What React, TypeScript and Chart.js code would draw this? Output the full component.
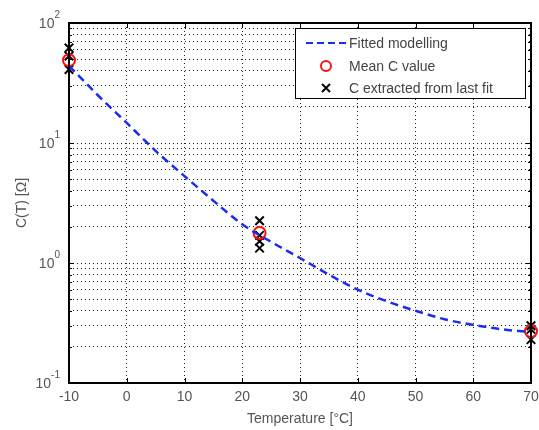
import React, { useEffect, useRef } from "react";
import { Chart, registerables } from "chart.js";

Chart.register(...registerables);

const fitTemps = [-10, -5, 0, 5, 10, 15, 20, 25, 30, 35, 40, 45, 50, 55, 60, 65, 70];
const fitValues = [44, 25, 14.7, 8.6, 5.3, 3.3, 2.1, 1.5, 1.1, 0.8, 0.6, 0.48, 0.4, 0.34, 0.305, 0.28, 0.266];
const meanTemps = [-10, 23, 70];
const meanValues = [49, 1.78, 0.27];
const extractTemps = [-10, -10, -10, 23, 23, 23, 23, 70, 70, 70];
const extractValues = [62, 53, 41, 2.25, 1.7, 1.52, 1.33, 0.3, 0.28, 0.23];
const xTicks = [-10, 0, 10, 20, 30, 40, 50, 60, 70];
const yDecades = [-1, 0, 1, 2];
const legendLabels = ["Fitted modelling", "Mean C value", "C extracted from last fit"];

const FONT = "Liberation Sans, Arial, sans-serif";
const TEXT = "#555";

export default function App() {
  const ref = useRef<HTMLCanvasElement>(null);
  useEffect(() => {
    const canvas = ref.current!;
    const decoPlugin = {
      id: "deco",
      beforeDatasetsDraw(chart: any) {
        const { ctx, chartArea: a, scales } = chart;
        const x = scales.x, y = scales.y;
        ctx.save();
        ctx.strokeStyle = "#000";
        ctx.lineWidth = 1;
        for (const t of xTicks) {
          const px = Math.round(x.getPixelForValue(t)) + 0.5;
          ctx.beginPath();
          ctx.moveTo(px, a.bottom); ctx.lineTo(px, a.bottom - 5);
          ctx.moveTo(px, a.top); ctx.lineTo(px, a.top + 5);
          ctx.stroke();
        }
        for (const d of yDecades) {
          for (let m = 1; m <= 9; m++) {
            const v = m * Math.pow(10, d);
            if (v > 100 || v < 0.1) continue;
            const py = Math.round(y.getPixelForValue(v)) + 0.5;
            const len = m === 1 ? 5 : 3;
            ctx.beginPath();
            ctx.moveTo(a.left, py); ctx.lineTo(a.left + len, py);
            ctx.moveTo(a.right, py); ctx.lineTo(a.right - len, py);
            ctx.stroke();
          }
        }
        ctx.restore();
      },
      afterDraw(chart: any) {
        const { ctx, chartArea: a, scales } = chart;
        const x = scales.x, y = scales.y;
        ctx.save();
        ctx.strokeStyle = "#000";
        ctx.lineWidth = 2;
        ctx.strokeRect(a.left, a.top, a.right - a.left, a.bottom - a.top);
        ctx.fillStyle = TEXT;
        ctx.textBaseline = "middle";
        ctx.font = `14px ${FONT}`;
        ctx.textAlign = "center";
        for (const t of xTicks) {
          ctx.fillText(String(t), x.getPixelForValue(t), a.bottom + 14);
        }
        ctx.fillText("Temperature [°C]", (a.left + a.right) / 2, a.bottom + 36);
        for (const d of yDecades) {
          const py = y.getPixelForValue(Math.pow(10, d));
          const exp = String(d);
          ctx.font = `10px ${FONT}`;
          const ew = ctx.measureText(exp).width;
          ctx.textAlign = "left";
          ctx.fillText(exp, a.left - 9 - ew, py - 8);
          ctx.font = `14px ${FONT}`;
          ctx.textAlign = "right";
          ctx.fillText("10", a.left - 9 - ew, py + 1);
        }
        ctx.save();
        ctx.translate(22, (a.top + a.bottom) / 2);
        ctx.rotate(-Math.PI / 2);
        ctx.textAlign = "center";
        ctx.font = `14px ${FONT}`;
        ctx.fillText("C(T) [Ω]", 0, 0);
        ctx.restore();
        const lx = 295, ly = 28, lw = 230, lh = 70;
        ctx.fillStyle = "#fff";
        ctx.fillRect(lx, ly, lw, lh);
        ctx.strokeStyle = "#000";
        ctx.lineWidth = 1;
        ctx.strokeRect(lx + 0.5, ly + 0.5, lw, lh);
        const rows = [43, 66, 88];
        ctx.strokeStyle = "#1a2cf0";
        ctx.lineWidth = 2;
        ctx.setLineDash([7, 4]);
        ctx.beginPath();
        ctx.moveTo(306, rows[0]); ctx.lineTo(347, rows[0]);
        ctx.stroke();
        ctx.setLineDash([]);
        ctx.strokeStyle = "#ff1010";
        ctx.lineWidth = 2;
        ctx.beginPath();
        ctx.arc(326, rows[1], 5, 0, Math.PI * 2);
        ctx.stroke();
        ctx.strokeStyle = "#000";
        ctx.lineWidth = 2;
        ctx.beginPath();
        ctx.moveTo(322, rows[2] - 4); ctx.lineTo(330, rows[2] + 4);
        ctx.moveTo(330, rows[2] - 4); ctx.lineTo(322, rows[2] + 4);
        ctx.stroke();
        ctx.fillStyle = "#444";
        ctx.font = `14px ${FONT}`;
        ctx.textAlign = "left";
        ctx.textBaseline = "middle";
        legendLabels.forEach((l, i) => ctx.fillText(l, 349, rows[i] + 1));
        ctx.restore();
      },
    };

    const chart = new Chart(canvas, {
      type: "scatter",
      data: {
        datasets: [
          {
            type: "line",
            data: fitTemps.map((t, i) => ({ x: t, y: fitValues[i] })),
            borderColor: "#1a2cf0",
            borderWidth: 2.5,
            borderDash: [8, 5],
            pointRadius: 0,
            cubicInterpolationMode: "monotone",
            fill: false,
            clip: false,
          } as any,
          {
            data: meanTemps.map((t, i) => ({ x: t, y: meanValues[i] })),
            pointStyle: "circle",
            pointRadius: 6,
            borderColor: "#ff1010",
            backgroundColor: "rgba(0,0,0,0)",
            borderWidth: 2,
            clip: false,
          } as any,
          {
            data: extractTemps.map((t, i) => ({ x: t, y: extractValues[i] })),
            pointStyle: "crossRot",
            pointRadius: 6,
            borderColor: "#000",
            borderWidth: 2,
            clip: false,
          } as any,
        ],
      },
      options: {
        animation: false,
        responsive: false,
        maintainAspectRatio: false,
        layout: { padding: { top: 23, right: 8, left: 0, bottom: 0 } },
        plugins: { legend: { display: false }, tooltip: { enabled: false } },
        scales: {
          x: {
            type: "linear",
            min: -10,
            max: 70,
            afterBuildTicks: (s: any) => { s.ticks = xTicks.map((v) => ({ value: v })); },
            afterFit: (s: any) => { s.height = 47; },
            grid: { color: "#222", drawTicks: false, lineWidth: 1 },
            border: { display: false, dash: [1, 3] },
            ticks: { display: false },
          },
          y: {
            type: "logarithmic",
            min: 0.1,
            max: 100,
            afterBuildTicks: (s: any) => {
              const t: any[] = [];
              for (const d of yDecades) for (let m = 1; m <= 9; m++) {
                const v = m * Math.pow(10, d);
                if (v <= 100 + 1e-9 && v >= 0.1 - 1e-12) t.push({ value: v });
              }
              s.ticks = t;
            },
            afterFit: (s: any) => { s.width = 69; },
            grid: { color: "#222", drawTicks: false, lineWidth: 1 },
            border: { display: false, dash: [1, 3] },
            ticks: { display: false },
          },
        },
      },
      plugins: [decoPlugin],
    });
    return () => chart.destroy();
  }, []);
  return (
    <div style={{ position: "absolute", left: 0, top: 0, width: 539, height: 430, background: "#fff" }}>
      <canvas ref={ref} width={539} height={430} style={{ width: 539, height: 430 }} />
    </div>
  );
}
